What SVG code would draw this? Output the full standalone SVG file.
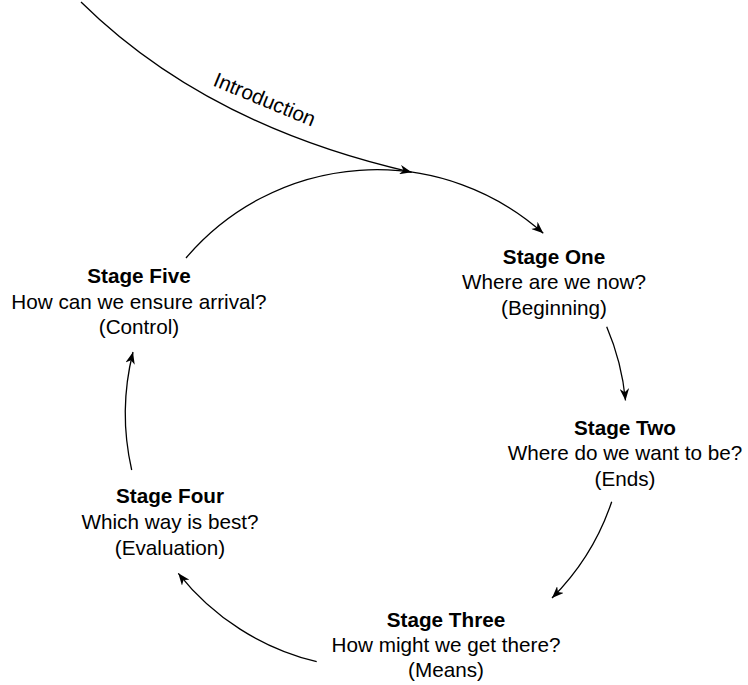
<svg xmlns="http://www.w3.org/2000/svg" width="748" height="685" viewBox="0 0 748 685">
  <style>
    .lbl { font-family: "Liberation Sans", Helvetica, Arial, sans-serif; font-size: 20.7px; fill: #000; text-anchor: middle; }
    .b { font-weight: bold; }
    .edge { fill: none; stroke: #000; stroke-width: 1.3; marker-end: url(#arr); }
  </style>
  <defs>
    <marker id="arr" viewBox="0 0 10 8" refX="10" refY="4" markerWidth="12" markerHeight="9.6" markerUnits="userSpaceOnUse" orient="auto">
      <path d="M0,0 L10,4 L0,8 L3,4 Z" fill="#000"/>
    </marker>
  </defs>
  <rect width="748" height="685" fill="#fff"/>
  <g id="connectors">
    <path class="edge" d="M81,2 C160,80 270,140 411.7,172.3"/>
    <text class="lbl" transform="translate(262,106) rotate(22.5)" x="0" y="0">Introduction</text>
    <path class="edge" d="M186,258 A250,250 0 0 1 543.3,233.3"/>
    <path class="edge" d="M606.7,326.7 A248,248 0 0 1 625.5,400.5"/>
    <path class="edge" d="M611.7,501.7 A247,247 0 0 1 552,598"/>
    <path class="edge" d="M316.7,661.7 A251,251 0 0 1 178.3,573.3"/>
    <path class="edge" d="M131.7,470 A253,253 0 0 1 133,352"/>
  </g>
  <g id="stage-one">
    <text class="lbl b" x="554" y="263.5">Stage One</text>
    <text class="lbl" x="554" y="289">Where are we now?</text>
    <text class="lbl" x="554" y="314.5">(Beginning)</text>
  </g>
  <g id="stage-two">
    <text class="lbl b" x="625" y="434.5">Stage Two</text>
    <text class="lbl" x="625" y="460">Where do we want to be?</text>
    <text class="lbl" x="625" y="485.5">(Ends)</text>
  </g>
  <g id="stage-three">
    <text class="lbl b" x="446" y="626.7">Stage Three</text>
    <text class="lbl" x="446" y="652">How might we get there?</text>
    <text class="lbl" x="446" y="677">(Means)</text>
  </g>
  <g id="stage-four">
    <text class="lbl b" x="170" y="503">Stage Four</text>
    <text class="lbl" x="170" y="529">Which way is best?</text>
    <text class="lbl" x="170" y="554.5">(Evaluation)</text>
  </g>
  <g id="stage-five">
    <text class="lbl b" x="139" y="283.3">Stage Five</text>
    <text class="lbl" x="139" y="308.5">How can we ensure arrival?</text>
    <text class="lbl" x="139" y="333.5">(Control)</text>
  </g>
</svg>
